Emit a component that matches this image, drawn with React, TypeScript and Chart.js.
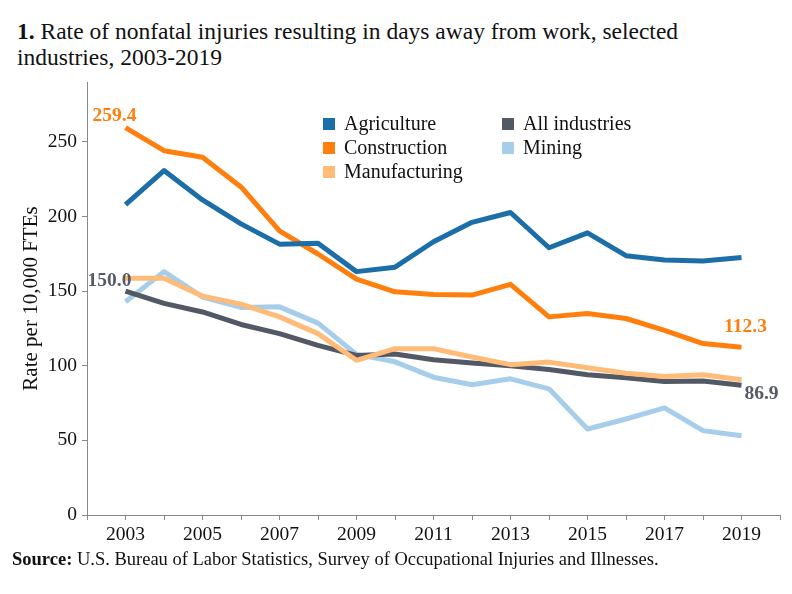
import React, { useEffect, useRef } from "react";
import { Chart, registerables } from "chart.js";

Chart.register(...registerables);

const years = [2003, 2004, 2005, 2006, 2007, 2008, 2009, 2010, 2011, 2012, 2013, 2014, 2015, 2016, 2017, 2018, 2019];
const agriculture = [207.8, 230.7, 211.0, 195.0, 181.4, 182.0, 163.0, 166.0, 183.0, 196.0, 202.6, 179.0, 189.0, 173.7, 170.8, 170.1, 172.4];
const construction = [259.4, 244.0, 239.6, 219.7, 190.3, 174.8, 158.0, 149.5, 147.7, 147.3, 154.5, 132.7, 135.0, 131.6, 123.7, 114.8, 112.3];
const manufacturing = [158.5, 158.5, 146.6, 141.2, 132.7, 121.5, 103.6, 111.4, 111.4, 105.8, 100.7, 102.4, 98.6, 95.0, 92.8, 93.9, 90.6];
const allIndustries = [150.0, 141.7, 136.0, 127.6, 121.5, 113.6, 106.9, 107.8, 104.0, 101.8, 100.0, 97.5, 93.9, 91.9, 89.4, 89.7, 86.9];
const mining = [142.8, 163.0, 146.0, 139.0, 139.4, 128.5, 107.6, 102.6, 92.3, 87.2, 91.2, 84.5, 57.6, 64.3, 71.7, 56.5, 53.1];

const seriesNames = ["Agriculture", "Construction", "Manufacturing", "All industries", "Mining"];
const seriesColors = ["#1c6ea8", "#ff7f0e", "#ffbb78", "#525864", "#a6cde9"];
const seriesValues = [agriculture, construction, manufacturing, allIndustries, mining];

const yTickValues = [0, 50, 100, 150, 200, 250];
const xTickYears = [2002, 2003, 2004, 2005, 2006, 2007, 2008, 2009, 2010, 2011, 2012, 2013, 2014, 2015, 2016, 2017, 2018, 2019, 2020];
const xLabelYears = [2003, 2005, 2007, 2009, 2011, 2013, 2015, 2017, 2019];

const FONT = "'Liberation Serif', 'Times New Roman', serif";

// value callouts: dataset index, point index, offsets from the point (px)
const callouts = [
  { ds: 1, idx: 0, dx: -11, dy: -12, color: "#ff7f0e" },
  { ds: 3, idx: 0, dx: -16, dy: -10, color: "#555a64" },
  { ds: 1, idx: 16, dx: 4, dy: -20, color: "#ff7f0e" },
  { ds: 3, idx: 16, dx: 20, dy: 9, color: "#555a64" },
];

const legendLayout = [
  { ds: 0, x: 323, y: 124 },
  { ds: 1, x: 323, y: 148 },
  { ds: 2, x: 323, y: 172 },
  { ds: 3, x: 502, y: 124 },
  { ds: 4, x: 502, y: 148 },
];

const calloutPlugin = {
  id: "callouts",
  afterDatasetsDraw(chart: any) {
    const ctx = chart.ctx;
    ctx.save();
    ctx.font = `bold 19.5px ${FONT}`;
    ctx.textAlign = "center";
    ctx.textBaseline = "middle";
    for (const c of callouts) {
      const meta = chart.getDatasetMeta(c.ds);
      const pt = meta.data[c.idx];
      const val = chart.data.datasets[c.ds].data[c.idx].y;
      ctx.fillStyle = c.color;
      ctx.fillText(val.toFixed(1), pt.x + c.dx, pt.y + c.dy);
    }
    ctx.restore();
  },
};

const legendPlugin = {
  id: "gridLegend",
  afterDraw(chart: any) {
    const ctx = chart.ctx;
    ctx.save();
    ctx.font = `20px ${FONT}`;
    ctx.textAlign = "left";
    ctx.textBaseline = "middle";
    for (const item of legendLayout) {
      const ds = chart.data.datasets[item.ds];
      ctx.fillStyle = ds.borderColor;
      ctx.fillRect(item.x, item.y - 6, 12, 12);
      ctx.fillStyle = "#111";
      ctx.fillText(ds.label, item.x + 21, item.y + 1);
    }
    ctx.restore();
  },
};

export default function App() {
  const canvasRef = useRef<HTMLCanvasElement | null>(null);

  useEffect(() => {
    if (!canvasRef.current) return;
    Chart.defaults.font.family = FONT;
    const chart = new Chart(canvasRef.current, {
      type: "line",
      data: {
        datasets: seriesNames.map((name, i) => ({
          label: name,
          data: years.map((yr, j) => ({ x: yr, y: seriesValues[i][j] })),
          borderColor: seriesColors[i],
          backgroundColor: seriesColors[i],
          borderWidth: 5,
          pointRadius: 0,
          pointHoverRadius: 0,
          tension: 0,
          fill: false,
          borderJoinStyle: "round" as const,
        })),
      },
      options: {
        animation: false,
        responsive: false,
        devicePixelRatio: 1,
        layout: { padding: { top: 82, right: 12, left: 0, bottom: 39 } },
        plugins: {
          legend: { display: false },
          tooltip: { enabled: false },
          title: { display: false },
        },
        scales: {
          x: {
            type: "linear",
            min: 2002,
            max: 2020,
            afterBuildTicks: (scale: any) => {
              scale.ticks = xTickYears.map((v) => ({ value: v }));
            },
            afterFit: (scale: any) => {
              scale.height = 40;
            },
            ticks: {
              autoSkip: false,
              maxRotation: 0,
              padding: 3,
              color: "#111",
              font: { size: 19.5, family: FONT },
              callback: (v: any) => (xLabelYears.includes(Number(v)) ? String(v) : ""),
            },
            grid: { drawOnChartArea: false, drawTicks: true, tickLength: 5, color: "#888" },
            border: { color: "#888", width: 1 },
          },
          y: {
            type: "linear",
            min: 0,
            max: 290,
            afterBuildTicks: (scale: any) => {
              scale.ticks = yTickValues.map((v) => ({ value: v }));
            },
            afterFit: (scale: any) => {
              scale.width = 87;
            },
            ticks: {
              padding: 5,
              color: "#111",
              font: { size: 19.5, family: FONT },
            },
            title: {
              display: true,
              text: "Rate per 10,000 FTEs",
              color: "#111",
              font: { size: 21, family: FONT },
              padding: { top: 19, bottom: 0 },
            },
            grid: { drawOnChartArea: false, drawTicks: true, tickLength: 5, color: "#888" },
            border: { color: "#888", width: 1 },
          },
        },
      },
      plugins: [calloutPlugin, legendPlugin],
    } as any);
    return () => chart.destroy();
  }, []);

  return (
    <div style={{ position: "fixed", left: 0, top: 0, width: 792, height: 594, background: "#fff", fontFamily: FONT, color: "#111" }}>
      <div style={{ position: "absolute", left: 17, top: 18, width: 770, fontSize: 23.5, lineHeight: "26px", whiteSpace: "nowrap" }}>
        <b>1.</b> Rate of nonfatal injuries resulting in days away from work, selected
        <br />
        industries, 2003-2019
      </div>
      <canvas ref={canvasRef} width={792} height={594} style={{ position: "absolute", left: 0, top: 0, width: 792, height: 594 }} />
      <div style={{ position: "absolute", left: 12, top: 550, fontSize: 18.5, lineHeight: "18.5px", whiteSpace: "nowrap" }}>
        <b>Source:</b> U.S. Bureau of Labor Statistics, Survey of Occupational Injuries and Illnesses.
      </div>
    </div>
  );
}
